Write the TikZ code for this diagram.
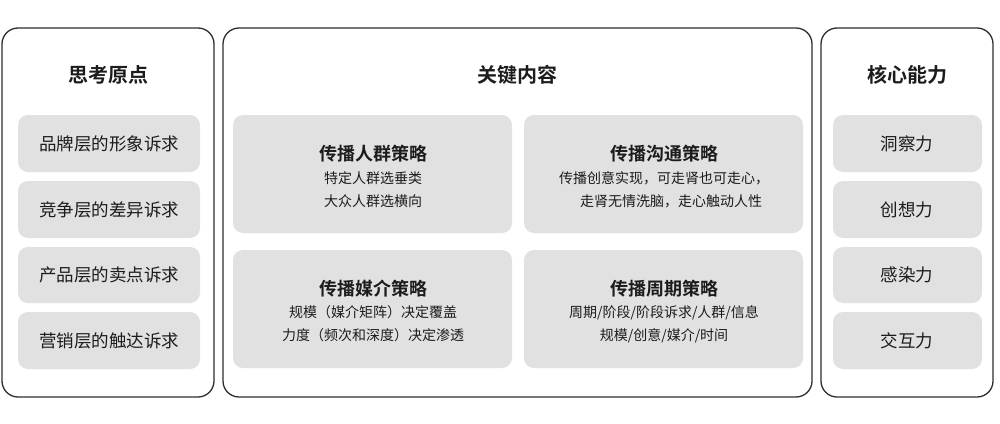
\documentclass[tikz,border=0pt]{standalone}
\usepackage{fontspec}
\setmainfont{Noto Sans CJK SC}
\newfontfamily\cjkb[FakeBold=0]{Noto Sans CJK SC Bold}
\definecolor{boxgray}{HTML}{E1E1E1}
\definecolor{edge}{HTML}{2E2E2E}
\definecolor{ink}{HTML}{1C1C1C}
\begin{document}
\begin{tikzpicture}[x=1pt,y=-1pt,
  panel/.style={draw=edge,line width=1.3pt,rounded corners=16pt,fill=white},
  itembox/.style={fill=boxgray,rounded corners=10pt},
  ptitle/.style={text=ink,font=\cjkb\fontsize{20}{24}\selectfont},
  itemtxt/.style={text=ink,font=\fontsize{17.5}{21}\selectfont},
  mtitle/.style={text=ink,font=\cjkb\fontsize{18}{22}\selectfont},
  msub/.style={text=ink,font=\fontsize{14}{23}\selectfont,align=center}]
\useasboundingbox (0,0) rectangle (1000,423);
\fill[white] (0,0) rectangle (1000,423);
% panels
\draw[panel] (2,28) rectangle (214,397);
\draw[panel] (223,28) rectangle (812,397);
\draw[panel] (821,28) rectangle (993,397);
% titles
\node[ptitle] (t1) at (108,75) {思考原点};
\node[ptitle] (t2) at (517,75) {关键内容};
\node[ptitle] (t3) at (907,75) {核心能力};
% left items
\fill[itembox] (18,115) rectangle (200,172);
\fill[itembox] (18,181) rectangle (200,238);
\fill[itembox] (18,247) rectangle (200,303);
\fill[itembox] (18,312) rectangle (200,369);
\node[itemtxt] (l1) at (109,144) {品牌层的形象诉求};
\node[itemtxt] (l2) at (109,210) {竞争层的差异诉求};
\node[itemtxt] (l3) at (109,275) {产品层的卖点诉求};
\node[itemtxt] (l4) at (109,341) {营销层的触达诉求};
% right items
\fill[itembox] (833,115) rectangle (982,172);
\fill[itembox] (833,181) rectangle (982,238);
\fill[itembox] (833,247) rectangle (982,303);
\fill[itembox] (833,312) rectangle (982,369);
\node[itemtxt] (r1) at (907,144) {洞察力};
\node[itemtxt] (r2) at (907,210) {创想力};
\node[itemtxt] (r3) at (907,275) {感染力};
\node[itemtxt] (r4) at (907,341) {交互力};
% middle items
\fill[itembox] (233,115) rectangle (512,233);
\fill[itembox] (524,115) rectangle (803,233);
\fill[itembox] (233,250) rectangle (512,368);
\fill[itembox] (524,250) rectangle (803,368);
\node[mtitle] (m1) at (373,154) {传播人群策略};
\node[msub] (m1s) at (373,190) {特定人群选垂类\\大众人群选横向};
\node[mtitle] (m2) at (664,154) {传播沟通策略};
\node[msub] (m2s) at (664,190) {传播创意实现，可走肾也可走心，\\\hspace{1em}走肾无情洗脑，走心触动人性};
\node[mtitle] (m3) at (373,289) {传播媒介策略};
\node[msub] (m3s) at (373,324) {规模（媒介矩阵）决定覆盖\\力度（频次和深度）决定渗透};
\node[mtitle] (m4) at (664,289) {传播周期策略};
\node[msub] (m4s) at (664,324) {周期/阶段/阶段诉求/人群/信息\\规模/创意/媒介/时间};
\end{tikzpicture}
\end{document}
